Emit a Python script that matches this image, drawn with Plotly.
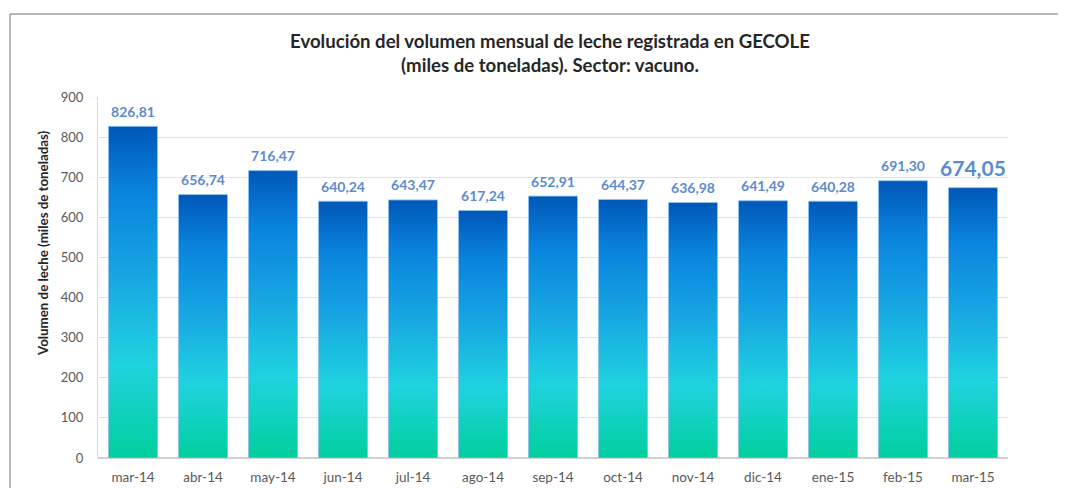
import plotly.graph_objects as go

categories = ["mar-14", "abr-14", "may-14", "jun-14", "jul-14", "ago-14", "sep-14",
              "oct-14", "nov-14", "dic-14", "ene-15", "feb-15", "mar-15"]
volumen = [826.81, 656.74, 716.47, 640.24, 643.47, 617.24, 652.91,
           644.37, 636.98, 641.49, 640.28, 691.30, 674.05]
y_ticks = [0, 100, 200, 300, 400, 500, 600, 700, 800, 900]

FONT = "Lato"
bar_half = 0.35
grad = [[0.0, "#00cf9c"], [0.28, "#1fd3df"], [0.55, "#17a6e2"],
        [0.8, "#0a84de"], [1.0, "#0057b7"]]

fig = go.Figure()
for i, v in enumerate(volumen):
    xs = [i - bar_half, i - bar_half, i + bar_half, i + bar_half, i - bar_half]
    ys = [0, v, v, 0, 0]
    fig.add_trace(go.Scatter(
        x=xs, y=ys, mode="lines", fill="toself",
        fillgradient=dict(type="vertical", colorscale=grad, start=0, stop=v),
        line=dict(color="rgba(140,195,240,0.9)", width=1),
        hoverinfo="skip", showlegend=False))

sizes = [14] * (len(volumen) - 1) + [21]
fig.add_trace(go.Scatter(
    x=list(range(len(volumen))), y=volumen, mode="markers+text",
    marker=dict(size=8, opacity=0),
    text=[f"{v:.2f}".replace(".", ",") for v in volumen],
    textposition="top center",
    textfont=dict(family=FONT, size=sizes, color="#5b8bcf", weight="bold"),
    showlegend=False, hoverinfo="skip"))

# page content is offset by the 8px body margin
W, H = 1050, 480
L, R, T, B = 90, 50, 89, 30
pw, ph = W - L - R, H - T - B
bx0 = (2 - L) / pw
by1 = 1 + (T - 6) / ph
border = dict(color="#a0a0a0", width=1.5)
fig.add_shape(type="line", xref="paper", yref="paper", x0=bx0, x1=(W - L) / pw,
              y0=by1, y1=by1, line=border, layer="below")
fig.add_shape(type="line", xref="paper", yref="paper", x0=bx0, x1=bx0,
              y0=-B / ph, y1=by1, line=border, layer="below")

fig.add_annotation(text="Volumen de leche (miles de toneladas)", textangle=-90,
                   xref="paper", yref="paper", x=(35 - L) / pw, y=1 - (235 - T) / ph,
                   xanchor="center", yanchor="middle", showarrow=False,
                   font=dict(family=FONT, size=13.3, color="#262626", weight="bold"))

fig.update_layout(
    width=W, height=H, margin=dict(l=L, r=R, t=T, b=B, autoexpand=False),
    paper_bgcolor="white", plot_bgcolor="white",
    separators=",.",
    font=dict(family=FONT, color="#595959"),
    title=dict(text="Evolución del volumen mensual de leche registrada en GECOLE<br>(miles de toneladas). Sector: vacuno.",
               x=542 / W, xanchor="center", y=1 - 40 / H, yanchor="top",
               font=dict(family=FONT, size=18.6, color="#262626", weight="bold")),
    xaxis=dict(range=[-0.5, len(categories) - 0.5], tickvals=list(range(len(categories))),
               ticktext=categories, showgrid=False, zeroline=False, showline=False,
               tickfont=dict(size=13.5, color="#595959"), ticks="", ticklabelstandoff=9,
               automargin=False, fixedrange=True),
    yaxis=dict(range=[0, 900], tickvals=y_ticks, showgrid=True, gridcolor="#e3e3e3",
               zeroline=True, zerolinecolor="#cfcfcf", showline=True, linecolor="#d9d9d9",
               tickfont=dict(size=13, color="#595959"), ticks="", ticklabelstandoff=11,
               automargin=False),
)

fig.write_html("out.html")
